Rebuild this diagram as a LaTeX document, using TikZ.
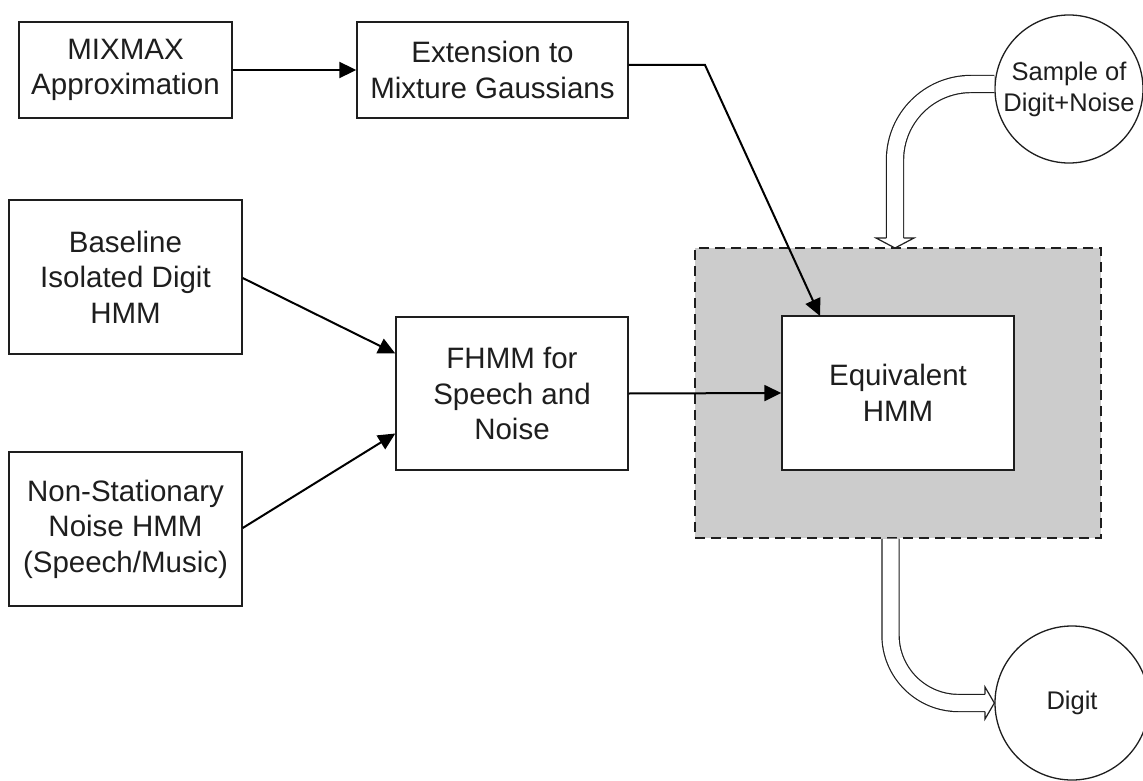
\documentclass[tikz,border=0pt]{standalone}
\usepackage{fontspec}
\setmainfont{Liberation Sans}
\usetikzlibrary{arrows.meta,calc}
\definecolor{panelgrey}{RGB}{204,204,204}
\definecolor{inkgrey}{RGB}{30,30,30}
\tikzset{
  box/.style={draw=inkgrey, line width=1.4pt, fill=white, rectangle, inner sep=0pt,
    align=center, font=\fontsize{29.5}{35.5}\selectfont, text=inkgrey},
  bubble/.style={draw=inkgrey, line width=1.3pt, fill=white, circle, inner sep=0pt,
    align=center, font=\fontsize{25.5}{31}\selectfont, text=inkgrey},
  flow/.style={draw=black, line width=2pt, -{Triangle[length=17pt,width=16pt]}},
  hollow/.style={draw=inkgrey, line width=1.2pt, double=white, double distance=16pt, rounded corners=#1},
  hollowhead/.style={draw=inkgrey, line width=1.2pt, fill=white, line join=miter}
}
\begin{document}
\begin{tikzpicture}[x=1pt,y=-1pt]
  \useasboundingbox (0,0) rectangle (1143,781);
  \fill[white] (0,0) rectangle (1143,781);

  % shaded panel around the combined model
  \node[draw=inkgrey, line width=1.4pt, dash pattern=on 10pt off 6pt, fill=panelgrey,
        rectangle, inner sep=0pt, minimum width=406pt, minimum height=290pt] (panel) at (898,393) {};

  % blocks
  \node[box, minimum width=213pt, minimum height=96pt]  (mix)   at (125.5,70)  {MIXMAX\\Approximation};
  \node[box, minimum width=271pt, minimum height=96pt]  (ext)   at (492.5,70)  {Extension to\\Mixture Gaussians};
  \node[box, minimum width=233pt, minimum height=154pt] (base)  at (125.5,277) {Baseline\\Isolated Digit\\HMM};
  \node[box, minimum width=233pt, minimum height=154pt] (nonst) at (125.5,529) {Non-Stationary\\Noise HMM\\(Speech/Music)};
  \node[box, minimum width=232pt, minimum height=153pt] (fhmm)  at (512,393.5) {FHMM for\\Speech and\\Noise};
  \node[box, minimum width=232pt, minimum height=154pt] (eq)    at (898,393)   {Equivalent\\HMM};

  % input and output
  \node[bubble, minimum size=148pt] (sample) at (1069,89)  {Sample of\\Digit+Noise};
  \node[bubble, minimum size=154pt] (digit)  at (1072,703) {Digit};

  % solid connectors
  \draw[flow] (mix.east) -- (ext.west);
  \coordinate (bend) at (705,65);
  \coordinate (eqin) at (820,316);
  \draw[flow] ($(ext.east)+(0,-5)$) -- (bend) -- (eqin);
  \draw[flow] ($(base.east)+(0,1)$) -- ($(fhmm.west)+(0,-40)$);
  \draw[flow] ($(nonst.east)+(0,-1)$) -- ($(fhmm.west)+(0,40)$);
  \draw[flow] (fhmm.east) -- (eq.west);

  % hollow arrow: sample into the panel
  \coordinate (sstart) at ($(sample.west)+(0,-5)$);
  \coordinate (sbase) at (895,238);
  \draw[hollow=76pt] (sstart) -| (sbase);
  \draw[hollowhead] ($(sbase)+(-8.6,0)$) -- ($(sbase)+(-19,0)$) -- ($(sbase)+(0,10)$)
        -- ($(sbase)+(19,0)$) -- ($(sbase)+(8.6,0)$);

  % hollow arrow: panel out to the recognised digit
  \coordinate (dstart) at ($(panel.south)+(-7.5,0)$);
  \coordinate (dbase) at (985,703);
  \draw[hollow=68pt] (dstart) |- (dbase);
  \draw[hollowhead] ($(dbase)+(0,-8.6)$) -- ($(dbase)+(0,-16)$) -- (digit.west)
        -- ($(dbase)+(0,16)$) -- ($(dbase)+(0,8.6)$);
\end{tikzpicture}
\end{document}
